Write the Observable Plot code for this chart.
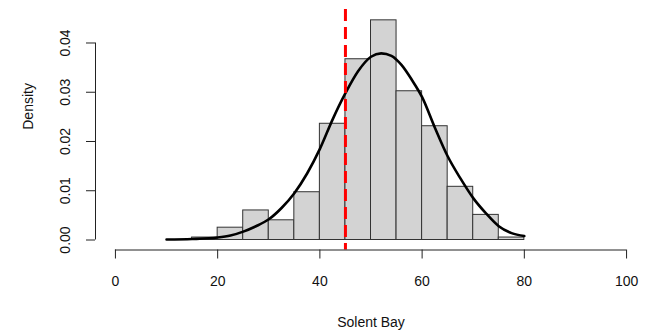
<!DOCTYPE html>
<html>
<head>
<meta charset="utf-8">
<script src="https://cdn.jsdelivr.net/npm/d3@7"></script>
<script src="https://cdn.jsdelivr.net/npm/@observablehq/plot@0.6"></script>
<style>
  html, body { margin: 0; padding: 0; background: #fff; }
  #chart svg { display: block; }
</style>
</head>
<body>
<div id="chart"></div>
<script>
// Histogram of Solent Bay scores (density scale), 5-unit bins
const binStart = [15, 20, 25, 30, 35, 40, 45, 50, 55, 60, 65, 70, 75];
const binWidth = 5;
const binDensity = [0.0005, 0.0025, 0.0060, 0.0040, 0.0097, 0.0236, 0.0367, 0.0446, 0.0302, 0.0231, 0.0108, 0.0051, 0.0005];

// Fitted density curve
const curveX = [10, 15, 20, 22.5, 25, 27.5, 30, 32.5, 35, 37.5, 40, 42.5, 45, 47.5, 50, 52, 54, 56, 58, 60, 62.5, 65, 67.5, 70, 72.5, 75, 77.5, 80];
const curveDensity = [0.0001, 0.0002, 0.0005, 0.0009, 0.0017, 0.0028, 0.0042, 0.0065, 0.0095, 0.0135, 0.0185, 0.0245, 0.0298, 0.0343, 0.0372, 0.0379, 0.0374, 0.0355, 0.0325, 0.0290, 0.0228, 0.0170, 0.0125, 0.0085, 0.0054, 0.0028, 0.0014, 0.0008];

// Reference value marked with a dashed line
const referenceValue = 45;

// Axis ticks and titles
const xTicks = [0, 20, 40, 60, 80, 100];
const yTicks = [0, 0.01, 0.02, 0.03, 0.04];
const xTitle = "Solent Bay";
const yTitle = "Density";

const xDomain = [-3.9, 103.9];
const yDomain = [-0.00203, 0.0468];

const bins = binStart.map((x0, i) => ({x0, x1: x0 + binWidth, density: binDensity[i]}));
const curvePts = curveX.map((x, i) => ({x, density: curveDensity[i]}));

const chart = Plot.plot({
  width: 654,
  height: 332,
  marginLeft: 95,
  marginRight: 8,
  marginTop: 9,
  marginBottom: 82.5,
  x: {domain: xDomain},
  y: {domain: yDomain},
  style: {
    fontFamily: "'Liberation Sans', Arial, sans-serif",
    fontSize: "14px",
    color: "#111",
    background: "#fff",
    overflow: "visible"
  },
  marks: [
    // bars
    Plot.rectY(bins, {x1: "x0", x2: "x1", y: "density", fill: "#d3d3d3", stroke: "#333", strokeWidth: 1}),
    // density curve
    Plot.line(curvePts, {x: "x", y: "density", stroke: "#000", strokeWidth: 2.6, curve: "monotone-x"}),
    // dashed reference line
    Plot.ruleX([referenceValue], {stroke: "#ff0000", strokeWidth: 3, strokeDasharray: "12,6"}),
    // axis lines spanning the tick range only
    Plot.ruleY([yDomain[0]], {x1: xTicks[0], x2: xTicks[xTicks.length - 1], stroke: "#222"}),
    Plot.ruleX([xDomain[0]], {y1: yTicks[0], y2: yTicks[yTicks.length - 1], stroke: "#222"}),
    // x axis ticks and labels
    Plot.axisX({ticks: xTicks, tickSize: 9, tickPadding: 17.5, tickFormat: d3.format("d"), label: null, stroke: "#222"}),
    // y axis ticks; labels drawn rotated below
    Plot.axisY({ticks: yTicks, tickSize: 9, tickFormat: () => "", label: null, stroke: "#222"}),
    Plot.text(yTicks, {y: d => d, text: d => d3.format(".2f")(d), frameAnchor: "left", dx: -29.5, rotate: -90, lineAnchor: "middle", textAnchor: "middle", fill: "#111"}),
    // axis titles
    Plot.text([yTitle], {frameAnchor: "left", dx: -67, rotate: -90, lineAnchor: "middle", fill: "#111"}),
    Plot.text([xTitle], {frameAnchor: "bottom", dy: 72.5, lineAnchor: "middle", fill: "#111"})
  ]
});

document.getElementById("chart").appendChild(chart);
</script>
</body>
</html>
